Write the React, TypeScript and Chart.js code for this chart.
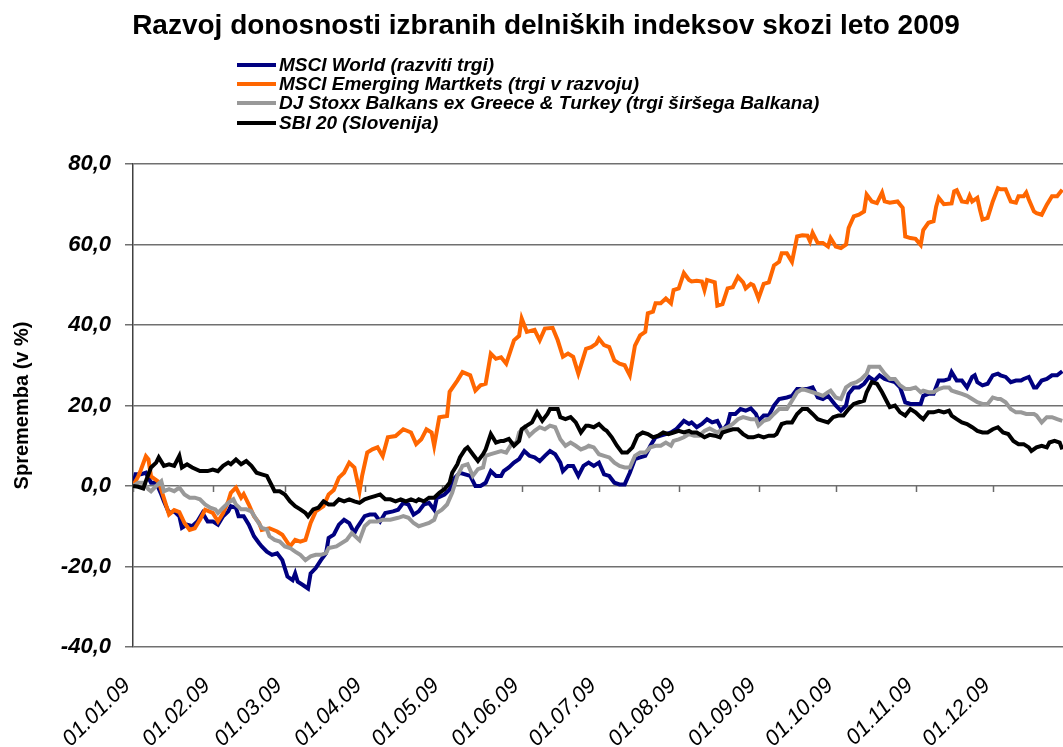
import React, { useEffect, useRef } from 'react';
import { Chart, registerables } from 'chart.js';

Chart.register(...registerables);

const TITLE = 'Razvoj donosnosti izbranih delniških indeksov skozi leto 2009';
const Y_TITLE = 'Sprememba (v %)';

const seriesNames = [
  'MSCI World (razviti trgi)',
  'MSCI Emerging Martkets (trgi v razvoju)',
  'DJ Stoxx Balkans ex Greece & Turkey (trgi širšega Balkana)',
  'SBI 20 (Slovenija)',
];
const seriesColors = ['#000080', '#FF6600', '#999999', '#000000'];

// day of year 2009 (0 = 01.01.09)
const monthStartDays = [0, 31, 59, 90, 120, 151, 181, 212, 243, 273, 304, 334];
const monthLabels = [
  '01.01.09', '01.02.09', '01.03.09', '01.04.09', '01.05.09', '01.06.09',
  '01.07.09', '01.08.09', '01.09.09', '01.10.09', '01.11.09', '01.12.09',
];
const yMin = -40;
const yMax = 80;
const yStep = 20;

const worldDays = [0, 1, 3, 5, 7, 9, 11, 12, 14, 16, 18, 19, 21, 23, 25, 27, 29, 31, 33, 35, 37, 38, 40, 41, 43, 45, 47, 49, 50, 52, 54, 56, 58, 60, 62, 63, 64, 66, 68, 69, 71, 73, 75, 76, 78, 80, 82, 84, 86, 87, 90, 92, 94, 96, 98, 101, 103, 105, 107, 109, 111, 113, 115, 117, 118, 121, 123, 125, 127, 129, 131, 133, 135, 137, 139, 141, 143, 144, 146, 148, 150, 152, 154, 156, 158, 160, 162, 164, 166, 167, 169, 171, 173, 175, 177, 179, 181, 183, 185, 187, 189, 191, 193, 195, 197, 199, 201, 203, 205, 207, 209, 211, 214, 216, 217, 219, 221, 223, 225, 227, 229, 231, 232, 234, 236, 238, 240, 242, 243, 245, 247, 249, 251, 254, 256, 258, 260, 262, 264, 266, 268, 270, 271, 273, 275, 277, 278, 280, 282, 284, 286, 288, 290, 292, 294, 296, 298, 300, 302, 306, 307, 309, 311, 313, 315, 317, 318, 320, 322, 324, 326, 327, 328, 330, 332, 334, 336, 337, 339, 341, 343, 345, 346, 348, 350, 351, 353, 355, 357, 359, 361];
const worldValues = [0, 2.9, 2.9, 3.3, 0.8, 0.8, -2.1, -3.8, -6.7, -6.3, -7.5, -10.4, -9.6, -10, -8.8, -6.7, -8.8, -8.8, -9.6, -7.5, -6.3, -5, -5.4, -7.5, -7.5, -9.6, -12.5, -14.2, -15, -16.3, -17.1, -16.7, -18.4, -22.5, -23.4, -21.7, -23.8, -24.6, -25.5, -21.7, -20.4, -18.4, -16.7, -12.9, -12.1, -9.6, -8.4, -9.2, -11.7, -10.4, -7.5, -7.1, -7.1, -8.8, -6.7, -6.3, -5.9, -4.2, -4.6, -7.1, -6.3, -4.6, -4.2, -5.9, -3, -2.1, -0.9, 2, 3.3, 2.9, 2.5, 0, 0, 0.8, 3.7, 2.5, 2.5, 3.7, 4.6, 5.8, 6.7, 8.7, 7.5, 7.1, 6.2, 7.5, 8.7, 7.9, 5.8, 3.7, 5, 5, 2.5, 5, 5.8, 5, 5.8, 2.9, 2.5, 0.8, 0.4, 0.4, 3.3, 6.7, 7.1, 7.5, 10, 12.1, 12.5, 12.9, 13.3, 14.1, 16.2, 15.4, 15.8, 14.6, 15.4, 16.6, 15.8, 16.2, 13.7, 15.4, 17.9, 17.9, 19.1, 18.7, 19.3, 17.9, 16.2, 17.5, 17.5, 20, 21.6, 22, 22.4, 24.1, 24.1, 24.1, 24.5, 22, 21.6, 22.4, 21.6, 20, 18.7, 20, 22.9, 24.5, 24.5, 25.4, 27.1, 26.2, 27.5, 26.6, 26.2, 25.8, 24.5, 20.8, 20.4, 20.4, 22.4, 22.9, 22.9, 26.2, 26.2, 26.6, 28.3, 26.2, 26.2, 24.5, 27.1, 27.5, 25.8, 25, 25.4, 27.5, 27.9, 27.5, 27.1, 25.8, 26.2, 26.2, 26.6, 27.1, 24.5, 24.5, 26.2, 26.6, 27.5, 27.5, 28.5];

const emergingDays = [0, 2, 3, 5, 6, 7, 10, 12, 14, 16, 18, 20, 22, 24, 26, 28, 31, 33, 35, 37, 38, 40, 42, 43, 45, 47, 49, 50, 53, 56, 58, 61, 63, 65, 67, 69, 71, 74, 76, 78, 80, 82, 84, 86, 88, 89, 91, 93, 95, 97, 99, 102, 105, 108, 110, 112, 114, 116, 117, 119, 122, 123, 126, 128, 131, 133, 135, 137, 139, 141, 143, 145, 148, 150, 151, 153, 156, 158, 160, 163, 165, 167, 169, 171, 173, 176, 178, 180, 181, 183, 185, 187, 189, 191, 193, 195, 197, 199, 200, 202, 203, 205, 207, 209, 210, 212, 214, 216, 217, 219, 221, 222, 223, 226, 227, 229, 231, 233, 235, 237, 238, 240, 241, 242, 243, 245, 247, 249, 251, 252, 254, 256, 258, 260, 262, 263, 264, 266, 268, 270, 271, 273, 275, 277, 278, 280, 282, 284, 285, 287, 289, 291, 292, 294, 297, 299, 300, 302, 304, 306, 307, 309, 311, 312, 313, 315, 318, 319, 320, 322, 324, 325, 326, 328, 329, 330, 332, 334, 336, 337, 339, 341, 343, 344, 346, 347, 348, 350, 351, 353, 355, 357, 359, 361];
const emergingValues = [0, 2.4, 3.9, 7.4, 6.6, 2.4, 1, -3, -7.1, -6, -6.5, -9.2, -10.9, -10.5, -8.4, -5.9, -6.7, -8.8, -6.7, -3.8, -1.7, -0.4, -2.9, -2, -4.6, -7.5, -9.2, -10.9, -10.5, -11.3, -12.1, -15, -13.4, -13.8, -13.4, -9.2, -6.3, -5, -2.1, -1, 2.1, 3.3, 5.8, 4.6, -1.3, 2.5, 8.3, 9.1, 9.6, 7.4, 12.1, 12.4, 14.1, 13.3, 10.4, 11.6, 14.1, 13.3, 10, 17.1, 17.4, 23.4, 26.2, 28.3, 27.5, 23.7, 25, 25.4, 32.9, 31.6, 32, 30.4, 36.2, 37.3, 41.6, 38.3, 38.8, 36.2, 39.1, 39.3, 36.2, 32.1, 32.9, 32.1, 27.9, 34.1, 34.5, 35.4, 36.6, 35, 34.5, 31.2, 30.4, 30, 27.5, 34.9, 37.4, 38.3, 42.9, 43.3, 45.4, 45.4, 46.6, 45.4, 48.7, 49.1, 52.9, 51.2, 50.8, 51, 50.8, 48.7, 51.2, 50.6, 44.8, 45.2, 49.1, 49.4, 52, 50.6, 49.1, 50.2, 49.9, 48.3, 46.6, 50.2, 50.6, 54.8, 55.7, 57.8, 57.8, 55.7, 62, 62.3, 62.2, 60.8, 62.9, 60.4, 60.4, 59.5, 61.6, 59.5, 59.1, 60, 64.1, 67, 67.4, 68.2, 72.4, 70.7, 70.3, 72.9, 70.7, 70.4, 70.7, 69.1, 62, 61.6, 61.4, 59.9, 63.6, 65.4, 65.8, 69.4, 71.6, 70, 70.2, 73.2, 73.5, 70.7, 70.5, 72.1, 70.7, 71.6, 68.7, 66.2, 66.6, 70.7, 74, 73.7, 73.7, 70.7, 70.4, 72, 72, 72.9, 71.2, 68.2, 67.8, 67.4, 69.9, 72, 72, 73.6];

const balkanDays = [0, 2, 4, 6, 7, 9, 11, 12, 14, 16, 18, 20, 22, 24, 26, 28, 30, 32, 33, 35, 37, 39, 40, 42, 44, 46, 48, 50, 52, 53, 55, 57, 59, 61, 63, 65, 67, 69, 71, 73, 75, 76, 79, 83, 85, 88, 90, 92, 95, 97, 100, 103, 105, 107, 109, 111, 113, 115, 117, 118, 120, 122, 124, 126, 128, 130, 132, 134, 136, 137, 139, 141, 143, 145, 147, 149, 150, 152, 154, 156, 158, 160, 162, 164, 166, 168, 170, 172, 174, 176, 177, 179, 181, 183, 185, 187, 189, 191, 193, 195, 197, 199, 201, 203, 205, 207, 209, 210, 212, 214, 216, 218, 220, 222, 224, 227, 229, 231, 233, 235, 237, 240, 242, 243, 245, 247, 249, 251, 254, 256, 258, 260, 262, 264, 266, 268, 270, 271, 273, 275, 277, 279, 281, 283, 285, 286, 290, 292, 294, 296, 298, 300, 302, 304, 306, 307, 309, 311, 313, 315, 317, 318, 320, 322, 324, 326, 328, 330, 332, 334, 336, 337, 339, 341, 343, 345, 347, 350, 351, 353, 355, 357, 359, 361];
const balkanValues = [0, 0.8, 0.8, -0.8, -1.3, 0, 1.2, -1.3, -0.8, -1.3, -0.4, -2.1, -2.9, -2.9, -3.3, -4.6, -5.4, -5.8, -6.7, -5.4, -4.2, -3.3, -4.6, -5.8, -5.8, -6.3, -8.4, -10.4, -10.8, -12.5, -13.4, -13.8, -15, -15.4, -16.3, -17.1, -18.4, -17.5, -17.1, -17.1, -16.7, -15.4, -15, -13.4, -11.7, -13.5, -10, -8.8, -8.8, -8.4, -8.4, -7.9, -7.5, -7.9, -9.2, -10, -9.6, -9.2, -8.4, -6.7, -5.9, -4.6, -1.7, 2.5, 5, 5.4, 2.5, 4.2, 4.6, 7.5, 7.9, 8.3, 8.7, 8.3, 10.4, 10.8, 13.3, 14.6, 12.5, 13.7, 14.6, 14.1, 15, 14.6, 11.6, 10, 10.8, 10, 9.1, 9.6, 10, 9.6, 7.9, 7.5, 7.1, 5.8, 5, 4.6, 4.6, 7.5, 8.3, 8.3, 9.6, 10, 10, 10.8, 10, 11.2, 11.6, 12.1, 12.9, 12.5, 12.5, 13.7, 14.3, 13.3, 14.1, 14.6, 15.4, 16.6, 17.1, 16.6, 16.6, 15, 16.2, 16.6, 17.9, 19.1, 19.1, 21.2, 23.3, 24.1, 23.7, 23.3, 22.9, 22.4, 23.3, 23.7, 22, 21.6, 24.5, 25.4, 25.8, 26.6, 27.9, 29.6, 29.6, 27.9, 26.6, 26.6, 25, 24.1, 24.1, 24.5, 23.3, 23.7, 23.3, 23.3, 24.1, 24.5, 24.5, 23.7, 23.3, 22.9, 22.4, 21.6, 20.8, 20.4, 20.4, 22, 21.6, 21.6, 20.8, 19.1, 18.3, 18.3, 17.9, 17.9, 17.5, 15.8, 17.1, 17.1, 16.6, 16.2];

const sbiDays = [0, 2, 4, 5, 7, 9, 10, 12, 14, 16, 18, 19, 21, 23, 26, 29, 31, 33, 35, 37, 38, 40, 42, 44, 46, 48, 50, 52, 54, 55, 57, 59, 61, 63, 65, 67, 68, 70, 72, 74, 76, 78, 80, 82, 84, 86, 88, 90, 92, 94, 96, 98, 100, 102, 104, 106, 108, 110, 111, 113, 115, 117, 119, 121, 123, 124, 126, 127, 129, 130, 132, 134, 136, 137, 139, 141, 143, 144, 146, 148, 150, 151, 153, 155, 157, 159, 161, 162, 165, 166, 168, 170, 172, 174, 176, 177, 179, 181, 183, 184, 186, 188, 190, 192, 194, 196, 198, 200, 202, 204, 206, 208, 210, 212, 214, 216, 217, 219, 222, 224, 226, 228, 229, 231, 233, 235, 237, 239, 241, 243, 245, 247, 249, 250, 252, 254, 256, 258, 260, 262, 264, 266, 268, 270, 272, 274, 276, 278, 280, 282, 284, 285, 287, 289, 291, 293, 294, 296, 298, 300, 302, 304, 306, 307, 309, 311, 313, 315, 317, 318, 320, 322, 324, 326, 328, 330, 332, 334, 336, 338, 340, 342, 344, 346, 348, 349, 351, 353, 355, 356, 358, 360, 361];
const sbiValues = [0, -0.2, -0.6, 1.2, 4.6, 5.8, 7.1, 5, 5.4, 5, 7.5, 4.6, 5.4, 4.6, 3.7, 3.7, 4.1, 3.7, 5, 5.8, 5.4, 6.6, 5.4, 6.2, 5, 3.3, 2.9, 2.5, 0, -1.3, -1.3, -2.1, -3.8, -5, -5.8, -6.7, -7.5, -5.8, -5.4, -3.8, -4.6, -4.6, -3.3, -3.8, -3.3, -3.8, -4.2, -3.3, -2.9, -2.5, -2.1, -3.3, -3.3, -3.8, -3.3, -3.8, -3.3, -3.8, -3.3, -3.8, -2.9, -2.9, -1.7, -0.8, 0.8, 3.3, 5.4, 7.1, 9.1, 9.6, 7.9, 6.2, 7.9, 9.1, 12.9, 10.8, 11.2, 11.2, 11.7, 10, 11.2, 14.1, 15, 15.8, 18.3, 16.2, 17.9, 19.1, 19.1, 17.1, 16.6, 17.1, 15.8, 13.3, 15, 15, 14.6, 15.4, 14.1, 13.7, 12.1, 10, 8.3, 8.3, 9.6, 12.5, 13.3, 12.9, 12.1, 12.5, 13.3, 12.9, 13.3, 13.7, 13.3, 13.7, 13.3, 13.3, 12.1, 12.7, 12.5, 12.1, 13.3, 13.7, 14.1, 14.1, 12.9, 12.1, 12.1, 12.5, 12.1, 12.5, 12.5, 12.9, 15.4, 15.8, 15.8, 17.9, 19.1, 19.1, 17.9, 16.6, 16.2, 15.8, 17.1, 17.5, 17.5, 19.1, 20.4, 20.8, 21.2, 23.3, 25.8, 25.4, 23.3, 20.8, 19.6, 20, 18.3, 17.5, 19.1, 18.3, 17.1, 16.6, 18.3, 18.3, 18.7, 18.3, 18.7, 17.5, 16.6, 15.8, 15.4, 14.6, 13.7, 13.3, 13.3, 14.1, 14.6, 13.3, 12.9, 11.2, 10.4, 10.4, 9.6, 8.7, 9.6, 10, 9.6, 10.8, 11.2, 10.8, 9.1];

const seriesDays = [worldDays, emergingDays, balkanDays, sbiDays];
const seriesValues = [worldValues, emergingValues, balkanValues, sbiValues];

const FONT = '"Liberation Sans", Arial, Helvetica, sans-serif';
const CANVAS_W = 1075;
const CANVAS_H = 747;

const decorPlugin = {
  id: 'decor',
  beforeDatasetsDraw(chart: any) {
    const ctx = chart.ctx;
    const xs = chart.scales.x;
    const ys = chart.scales.y;
    const y0 = ys.getPixelForValue(0);
    ctx.save();
    ctx.strokeStyle = '#6a6a6a';
    ctx.lineWidth = 1.5;
    monthStartDays.forEach((d) => {
      const px = Math.round(xs.getPixelForValue(d)) + 0.5;
      ctx.beginPath();
      ctx.moveTo(px, y0);
      ctx.lineTo(px, y0 + 6);
      ctx.stroke();
    });
    ctx.restore();
  },
  afterDraw(chart: any) {
    const ctx = chart.ctx;
    ctx.save();
    ctx.fillStyle = '#000';
    ctx.font = `bold 28px ${FONT}`;
    ctx.textAlign = 'center';
    ctx.textBaseline = 'middle';
    ctx.fillText(TITLE, 546, 26);

    ctx.font = `italic bold 19px ${FONT}`;
    ctx.textAlign = 'left';
    const rows = [65, 84, 103, 123];
    seriesNames.forEach((name, i) => {
      const y = rows[i];
      ctx.strokeStyle = seriesColors[i];
      ctx.lineWidth = 4;
      ctx.beginPath();
      ctx.moveTo(237, y);
      ctx.lineTo(276, y);
      ctx.stroke();
      ctx.fillStyle = '#000';
      ctx.fillText(name, 279, y + 1);
    });
    ctx.restore();
  },
};

export default function App() {
  const canvasRef = useRef<HTMLCanvasElement | null>(null);

  useEffect(() => {
    const canvas = canvasRef.current;
    if (!canvas) return;
    const datasets = seriesNames.map((name, i) => ({
      label: name,
      data: seriesDays[i].map((d, j) => ({ x: d, y: seriesValues[i][j] })),
      borderColor: seriesColors[i],
      backgroundColor: seriesColors[i],
      borderWidth: 4,
      pointRadius: 0,
      tension: 0,
      fill: false,
      order: seriesNames.length - i,
    }));

    const chart = new Chart(canvas, {
      type: 'line',
      data: { datasets },
      plugins: [decorPlugin],
      options: {
        responsive: false,
        animation: false,
        devicePixelRatio: 1,
        layout: { padding: { top: 164, left: 0, right: 5, bottom: 0 } },
        plugins: {
          legend: { display: false },
          title: { display: false },
          tooltip: { enabled: false },
        },
        scales: {
          x: {
            type: 'linear',
            min: 0,
            max: 364,
            grid: { display: false },
            border: { display: false },
            afterBuildTicks: (scale: any) => {
              scale.ticks = monthStartDays.map((v) => ({ value: v }));
            },
            afterFit: (scale: any) => {
              scale.height = 100;
            },
            ticks: {
              autoSkip: false,
              minRotation: 45,
              maxRotation: 45,
              padding: 18,
              labelOffset: -6,
              color: '#000',
              font: { family: FONT, size: 22, style: 'italic' },
              callback: (_v: any, i: number) => monthLabels[i],
            },
          },
          y: {
            type: 'linear',
            min: yMin,
            max: yMax,
            afterFit: (scale: any) => {
              scale.width = 133;
            },
            grid: {
              color: '#707070',
              lineWidth: 1.5,
              tickLength: 8,
              drawTicks: true,
            },
            border: { display: true, color: '#404040', width: 1.5 },
            ticks: {
              stepSize: yStep,
              padding: 14,
              color: '#000',
              font: { family: FONT, size: 22, style: 'italic', weight: 'bold' },
              callback: (v: any) => Number(v).toFixed(1).replace('.', ','),
            },
            title: {
              display: true,
              text: Y_TITLE,
              color: '#000',
              padding: { top: 10, bottom: 0 },
              font: { family: FONT, size: 20, weight: 'bold' },
            },
          },
        },
      },
    });
    return () => chart.destroy();
  }, []);

  return (
    <div
      style={{
        position: 'fixed',
        left: 0,
        top: 0,
        width: 1063,
        height: 747,
        overflow: 'hidden',
        background: '#fff',
      }}
    >
      <canvas
        ref={canvasRef}
        width={CANVAS_W}
        height={CANVAS_H}
        style={{ display: 'block', width: CANVAS_W, height: CANVAS_H }}
      />
    </div>
  );
}
